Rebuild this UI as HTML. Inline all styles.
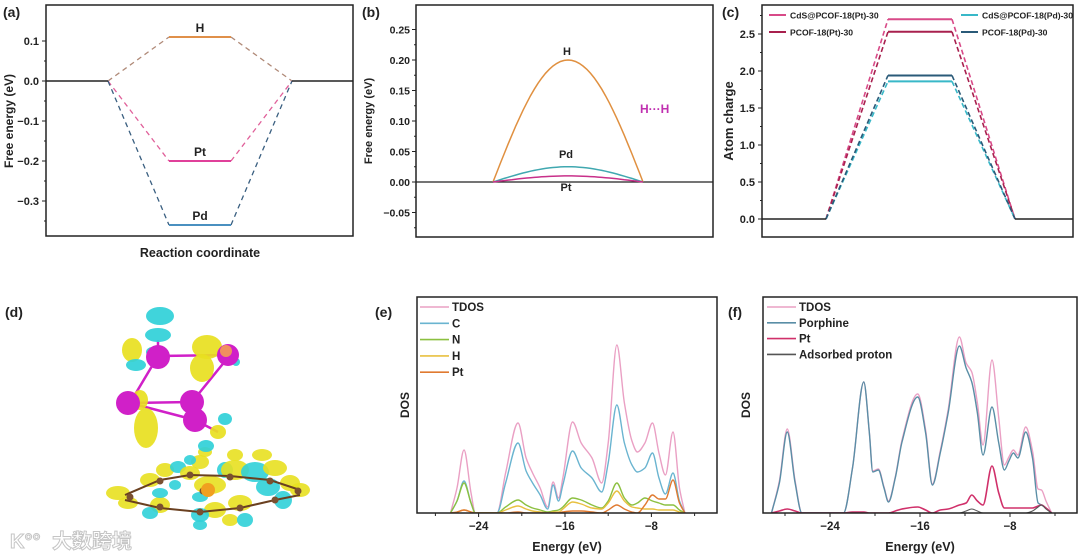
<!DOCTYPE html>
<html><head><meta charset="utf-8">
<style>
html,body{margin:0;padding:0;background:#fff;}
svg{display:block;font-family:"Liberation Sans","Noto Sans CJK SC",sans-serif;}
text{font-weight:bold;fill:#222;}
</style></head>
<body>
<svg id="fig" width="1080" height="557" viewBox="0 0 1080 557">
<rect x="0" y="0" width="1080" height="557" fill="#fff"/>
<text x="3" y="17" font-size="14">(a)</text>
<text x="362" y="17" font-size="14">(b)</text>
<text x="722" y="17" font-size="14">(c)</text>
<text x="5" y="317" font-size="14">(d)</text>
<text x="375" y="317" font-size="14">(e)</text>
<text x="728" y="317" font-size="14">(f)</text>
<text x="200" y="257" font-size="12.5" text-anchor="middle">Reaction coordinate</text>
<text transform="translate(13,121) rotate(-90)" font-size="12" text-anchor="middle">Free energy (eV)</text>
<text transform="translate(372,121) rotate(-90)" font-size="11" text-anchor="middle">Free energy (eV)</text>
<text transform="translate(733,121) rotate(-90)" font-size="13" text-anchor="middle">Atom charge</text>
<text transform="translate(409,405) rotate(-90)" font-size="12" text-anchor="middle">DOS</text>
<text transform="translate(750,405) rotate(-90)" font-size="12" text-anchor="middle">DOS</text>
<text x="567" y="551" font-size="12.5" text-anchor="middle">Energy (eV)</text>
<text x="920" y="551" font-size="12.5" text-anchor="middle">Energy (eV)</text>
<text x="640" y="113" font-size="12" style="fill:#c030b0">H···H</text>
<g opacity="0.85">
<text x="10" y="548" font-size="20" style="fill:#fff;stroke:#bbb;stroke-width:1">K°°</text>
<text x="52" y="548" font-size="20" style="fill:#fff;stroke:#bbb;stroke-width:1">大数跨境</text>
</g>
<g id="layer"></g>
</svg>
<script>
// ---------- data ----------
const aLevels = ['H','Pt','Pd'];
const aValues = [0.11,-0.2,-0.36];
const aTicks = [0.1,0.0,-0.1,-0.2,-0.3];
const aTickLabels = ['0.1','0.0','−0.1','−0.2','−0.3'];

const bSeries = ['H','Pd','Pt'];
const bPeaks = [0.2,0.025,0.01];
const bTicks = [0.25,0.2,0.15,0.1,0.05,0.0,-0.05];
const bTickLabels = ['0.25','0.20','0.15','0.10','0.05','0.00','−0.05'];

const cSeries = ['CdS@PCOF-18(Pt)-30','PCOF-18(Pt)-30','CdS@PCOF-18(Pd)-30','PCOF-18(Pd)-30'];
const cValues = [2.7,2.53,1.86,1.94];
const cTicks = [0,0.5,1.0,1.5,2.0,2.5];
const cTickLabels = ['0.0','0.5','1.0','1.5','2.0','2.5'];

const eEnergy = [-26.6,-26,-25.35,-24.7,-24.3,-22.3,-21.5,-20.35,-19.6,-19,-18.3,-17.6,-17.1,-16.6,-16.2,-15.3,-14.5,-13.5,-12.6,-12,-11.2,-10.5,-9.8,-9.3,-8.6,-7.9,-7.3,-6.7,-6.0,-5.4,-4.9];
const eTDOS = [0,25,63,20,0,0,40,90,55,40,25,6,31,15,35,91,70,55,30,70,168,110,72,61,70,90,60,38,81,25,0];
const eC    = [0,12,32,10,0,0,30,70,42,30,18,4,28,12,28,62,45,35,21,50,108,70,48,41,45,60,35,19,40,12,0];
const eN    = [0,12,30,10,0,0,6,13,8,5,3,1,2,3,6,15,13,8,5,12,30,15,8,10,15,12,10,8,8,3,0];
const eH    = [0,1,3,1,0,0,3,7,4,2,1,0,1,1,4,11,9,5,4,10,22,12,6,5,4,4,3,3,3,1,0];
const ePt   = [0,1,3,1,0,0,0,1,0,0,0,0,0,0,1,2,2,1,0,3,8,4,1,0,8,18,14,14,33,10,0];

const fEnergy = [-29.2,-28.5,-27.8,-27.1,-26.5,-22.8,-22,-21,-20.5,-20.2,-19.7,-19.2,-18.8,-18.2,-17.6,-16.2,-15.5,-14.9,-14.2,-13.5,-12.5,-11.9,-11.4,-10.9,-10.4,-9.6,-9,-8.5,-8.1,-7.7,-7.3,-6.6,-6,-5.5,-5.2,-4.8,-4.3];
const fTDOS     = [0,32,84,32,0,0,45,131,80,42,44,26,12,36,73,119,83,29,62,103,176,150,141,110,68,153,95,48,56,63,58,86,62,24,23,12,0];
const fPorphine = [0,30,81,30,0,0,45,131,80,41,43,25,11,35,71,116,80,28,60,100,167,145,131,100,58,106,70,43,52,60,55,81,55,10,8,5,0];
const fPt       = [0,2,4,2,0,0,1,1,0,0,0,0,0,2,4,6,3,0,3,4,8,10,18,12,8,47,20,5,5,5,5,5,5,7,8,5,0];
const fProton   = [0,0,0,0,0,0,0,0,0,0,0,0,0,0,0,0,0,0,0,0,0,2,4,2,0,0,0,0,0,0,0,0,2,6,8,4,0];

const dosTicks = [-28,-24,-20,-16,-12,-8,-4];
const dosTickLabels = ['','−24','','−16','','−8',''];

// ---------- helpers ----------
const svg = document.getElementById('fig');
const NS = svg.namespaceURI;
const layer = document.getElementById('layer');
function mk(parent, tag, attrs, text){
  const e = document.createElementNS(NS, tag);
  for (const k in attrs) e.setAttribute(k, attrs[k]);
  if (text != null) e.textContent = text;
  parent.appendChild(e);
  return e;
}
// monotone cubic (Fritsch-Carlson) path -> rounded peaks
function smoothPath(pts){
  const n = pts.length, dx=[], sl=[], m=[];
  for(let i=0;i<n-1;i++){dx[i]=pts[i+1][0]-pts[i][0]; sl[i]=(pts[i+1][1]-pts[i][1])/dx[i];}
  m[0]=sl[0]; m[n-1]=sl[n-2];
  for(let i=1;i<n-1;i++){
    if(sl[i-1]*sl[i]<=0) m[i]=0;
    else { const w1=2*dx[i]+dx[i-1], w2=dx[i]+2*dx[i-1]; m[i]=(w1+w2)/(w1/sl[i-1]+w2/sl[i]); }
  }
  let d='M'+pts[0][0].toFixed(2)+','+pts[0][1].toFixed(2);
  for(let i=0;i<n-1;i++){
    const h=dx[i]/3;
    d+=' C'+(pts[i][0]+h).toFixed(2)+','+(pts[i][1]+m[i]*h).toFixed(2)+' '+(pts[i+1][0]-h).toFixed(2)+','+(pts[i+1][1]-m[i+1]*h).toFixed(2)+' '+pts[i+1][0].toFixed(2)+','+pts[i+1][1].toFixed(2);
  }
  return d;
}

// ---------- panel a ----------
const ya = v => 81 - 400*v;
const ga = mk(layer,'g',{});


const aColors = ['#e0904a','#e0409a','#4a90c0'];
const aDash = ['#b08a78','#e0609a','#3a5f80'];
aLevels.forEach((n,i)=>{
  const y = ya(aValues[i]);
  const d1 = mk(ga,'line',{x1:108,y1:ya(0),x2:169,y2:y,stroke:aDash[i],'stroke-width':1.3,'stroke-dasharray':'5,4'});
  
  
  const d2 = mk(ga,'line',{x1:231,y1:y,x2:292,y2:ya(0),stroke:aDash[i],'stroke-width':1.3,'stroke-dasharray':'5,4'});
  
  
  const l = mk(ga,'line',{x1:169,y1:y,x2:231,y2:y,stroke:aColors[i],'stroke-width':2});
  
  
  const t = mk(ga,'text',{x:200,y:y-5,'font-size':12,'text-anchor':'middle'},n);
  
  
});
const a0l = mk(ga,'line',{x1:46,y1:ya(0),x2:108,y2:ya(0),stroke:'#222','stroke-width':1.5});


const a0r = mk(ga,'line',{x1:292,y1:ya(0),x2:353,y2:ya(0),stroke:'#222','stroke-width':1.5});


aTicks.forEach((v,i)=>{
  const tk = mk(ga,'line',{x1:42,y1:ya(v),x2:46,y2:ya(v),stroke:'#222','stroke-width':1});
  
  
  const mn = mk(ga,'line',{x1:44,y1:ya(v-0.05),x2:46,y2:ya(v-0.05),stroke:'#222','stroke-width':1});
  
  
  const tl = mk(ga,'text',{x:39,y:ya(v)+4,'font-size':11,'text-anchor':'end'},aTickLabels[i]);
  
  
});
const af = mk(ga,'rect',{x:46,y:5,width:307,height:231,fill:'none',stroke:'#222','stroke-width':1.5});



// ---------- panel b ----------
const yb = v => 182 - 610*v;
const xb0 = 493, xb1 = 643;
const gb = mk(layer,'g',{});


const b0 = mk(gb,'line',{x1:416,y1:yb(0),x2:713,y2:yb(0),stroke:'#222','stroke-width':1.2});


const bColors = ['#e09040','#40a8b0','#c8308a'];
bSeries.forEach((n,i)=>{
  const pts=[];
  for(let k=0;k<=40;k++){const t=k/40; pts.push([xb0+(xb1-xb0)*t, yb(bPeaks[i]*Math.sin(Math.PI*t))]);}
  const p = mk(gb,'path',{d:'M'+pts.map(q=>q[0].toFixed(1)+','+q[1].toFixed(1)).join(' L'),fill:'none',stroke:bColors[i],'stroke-width':1.5});
  
  
});
const bl1 = mk(gb,'text',{x:567,y:yb(bPeaks[0])-5,'font-size':11,'text-anchor':'middle'},'H');


const bl2 = mk(gb,'text',{x:566,y:yb(bPeaks[1])-9,'font-size':11,'text-anchor':'middle'},'Pd');


const bl3 = mk(gb,'text',{x:566,y:yb(0)+9,'font-size':11,'text-anchor':'middle'},'Pt');


bTicks.forEach((v,i)=>{
  const tk = mk(gb,'line',{x1:412,y1:yb(v),x2:416,y2:yb(v),stroke:'#222','stroke-width':1});
  
  
  const mn = mk(gb,'line',{x1:414,y1:yb(v-0.025),x2:416,y2:yb(v-0.025),stroke:'#222','stroke-width':1});
  
  
  const tl = mk(gb,'text',{x:410,y:yb(v)+4,'font-size':10.5,'text-anchor':'end'},bTickLabels[i]);
  
  
});
const bf = mk(gb,'rect',{x:416,y:5,width:297,height:232,fill:'none',stroke:'#222','stroke-width':1.5});



// ---------- panel c ----------
const yc = v => 219 - 74*v;
const gc = mk(layer,'g',{});


const cColors = ['#d84a88','#a8204e','#38b8c8','#2a5a78'];
cSeries.forEach((n,i)=>{
  const y = yc(cValues[i]);
  const d1 = mk(gc,'line',{x1:826,y1:yc(0),x2:888,y2:y,stroke:cColors[i],'stroke-width':1.6,'stroke-dasharray':'5,3'});
  
  
  const d2 = mk(gc,'line',{x1:952,y1:y,x2:1015,y2:yc(0),stroke:cColors[i],'stroke-width':1.6,'stroke-dasharray':'5,3'});
  
  
  const l = mk(gc,'line',{x1:888,y1:y,x2:952,y2:y,stroke:cColors[i],'stroke-width':2});
  
  
  const col = i<2?0:1, row=i%2;
  const lx = col? 961:769, ly = 15+row*17;
  const ll = mk(gc,'line',{x1:lx,y1:ly,x2:lx+17,y2:ly,stroke:cColors[i],'stroke-width':2});
  
  
  const lt = mk(gc,'text',{x:lx+21,y:ly+3.5,'font-size':8.6},n);
  
  
});
const c0l = mk(gc,'line',{x1:762,y1:yc(0),x2:826,y2:yc(0),stroke:'#222','stroke-width':1.5});


const c0r = mk(gc,'line',{x1:1015,y1:yc(0),x2:1073,y2:yc(0),stroke:'#222','stroke-width':1.5});


cTicks.forEach((v,i)=>{
  const tk = mk(gc,'line',{x1:758,y1:yc(v),x2:762,y2:yc(v),stroke:'#222','stroke-width':1});
  
  
  const mn = mk(gc,'line',{x1:760,y1:yc(v+0.25),x2:762,y2:yc(v+0.25),stroke:'#222','stroke-width':1});
  
  
  const tl = mk(gc,'text',{x:755,y:yc(v)+4,'font-size':11,'text-anchor':'end'},cTickLabels[i]);
  
  
});
const cf = mk(gc,'rect',{x:762,y:5,width:311,height:232,fill:'none',stroke:'#222','stroke-width':1.5});



// ---------- DOS panels ----------
function dosPanel(id, x0, x1, top, base, xE, energy, series, names, colors, widths, legX, legStep){
  const g = mk(layer,'g',{});
  
  
  const clipId='clip-'+id;
  const defs = mk(g,'defs',{});
  const cp = mk(defs,'clipPath',{id:clipId});
  mk(cp,'rect',{x:x0,y:top,width:x1-x0,height:base-top});
  const yD = v => base - v;
  series.forEach((vals,i)=>{
    const pts = energy.map((E,k)=>[xE(E), yD(vals[k])]);
    const p = mk(g,'path',{d:smoothPath(pts),fill:'none',stroke:colors[i],'stroke-width':widths[i],'stroke-linejoin':'round','clip-path':'url(#'+clipId+')'});
    
    
    const ly = 307 + i*legStep;
    const ll = mk(g,'line',{x1:legX,y1:ly,x2:legX+29,y2:ly,stroke:colors[i],'stroke-width':1.6});
    
    
    const lt = mk(g,'text',{x:legX+32,y:ly+4,'font-size':11.5},names[i]);
    
    
  });
  dosTicks.forEach((E,i)=>{
    const major = dosTickLabels[i] !== '';
    const tk = mk(g,'line',{x1:xE(E),y1:base,x2:xE(E),y2:base+(major?4:3),stroke:'#222','stroke-width':1});
    
    
    if(major){
      const tl = mk(g,'text',{x:xE(E),y:base+17,'font-size':11.5,'text-anchor':'middle'},dosTickLabels[i]);
      
      
    }
  });
  const fr = mk(g,'rect',{x:x0,y:top,width:x1-x0,height:base-top,fill:'none',stroke:'#222','stroke-width':1.5});
  
  
}
const xe = E => 565 + (E+16)*10.8;
dosPanel('e',417,717,297,513,xe,eEnergy,[eTDOS,eC,eN,eH,ePt],
  ['TDOS','C','N','H','Pt'],['#eaa0c4','#6ab4d0','#8cc040','#e8c040','#e07a30'],[1.4,1.4,1.4,1.4,1.4],420,16.3);
const xf = E => 920 + (E+16)*11.25;
dosPanel('f',763,1077,297,513,xf,fEnergy,[fTDOS,fPorphine,fPt,fProton],
  ['TDOS','Porphine','Pt','Adsorbed proton'],['#eaa0c4','#5a8ea6','#d0306a','#555555'],[1.4,1.4,1.6,1.1],767,15.8);

// ---------- panel d (structure) ----------
const gd = mk(layer,'g',{});


const Y='#e8e020', Cy='#30d0d8', M='#d020c8';
[[118,493,12,7,Y],[128,503,10,6,Y],[150,480,10,7,Y],[165,470,9,7,Y],[160,505,10,8,Y],[178,467,8,6,Cy],[190,473,10,7,Y],[200,462,9,7,Y],[210,485,16,9,Y],[225,470,8,8,Cy],[235,470,14,10,Y],[255,472,14,10,Cy],[275,468,12,8,Y],[268,487,12,9,Cy],[290,483,10,8,Y],[300,490,10,7,Y],[283,500,9,9,Cy],[240,503,12,8,Y],[215,510,11,8,Y],[200,515,9,7,Cy],[230,520,8,6,Y],[245,520,8,7,Cy],[150,513,8,6,Cy],[160,493,8,5,Cy],[175,485,6,5,Cy],[200,497,8,5,Cy],[262,455,10,6,Y],[235,455,8,6,Y],[205,452,7,5,Y],[190,460,6,5,Cy],[200,525,7,5,Cy]].forEach(b=>{
  const e = mk(gd,'ellipse',{cx:b[0],cy:b[1],rx:b[2],ry:b[3],fill:b[4],opacity:0.9});
  
  
});
const ring = mk(gd,'path',{d:'M125,495 L160,480 L190,475 L230,476 L270,480 L300,490 M125,500 L160,508 L200,512 L240,508 L275,500 L300,495',stroke:'#6a4020','stroke-width':2,fill:'none'});


[[130,497],[160,481],[190,475],[230,477],[270,481],[298,491],[160,507],[200,512],[240,508],[275,500],[203,491]].forEach(p=>{
  const a = mk(gd,'circle',{cx:p[0],cy:p[1],r:3.5,fill:'#7a5030'});
  
  
});
const ptAtom = mk(gd,'circle',{cx:208,cy:490,r:7,fill:'#f0a020'});


const bonds = mk(gd,'path',{d:'M158,356 L230,355 M158,356 L130,403 M130,403 L192,402 M192,402 L230,355 M130,403 L195,420 M192,402 L195,420 M195,420 L218,432 M158,340 L158,356',stroke:M,'stroke-width':2.5,fill:'none'});


[[160,316,14,9,Cy],[158,335,13,7,Cy],[132,350,10,12,Y],[207,347,15,12,Y],[202,368,12,14,Y],[146,428,12,20,Y],[140,400,8,10,Y],[218,432,8,7,Y],[136,365,10,6,Cy],[225,419,7,6,Cy],[206,446,8,6,Cy],[236,362,4,4,Cy],[152,352,6,5,Cy]].forEach(b=>{
  const e = mk(gd,'ellipse',{cx:b[0],cy:b[1],rx:b[2],ry:b[3],fill:b[4],opacity:0.92});
  
  
});
[[158,357,12],[228,355,11],[128,403,12],[192,402,12],[195,420,12]].forEach(p=>{
  const a = mk(gd,'circle',{cx:p[0],cy:p[1],r:p[2],fill:M});
  
  
});
const cap = mk(gd,'circle',{cx:226,cy:351,r:6,fill:'#f09060'});


</script>
</body></html>
